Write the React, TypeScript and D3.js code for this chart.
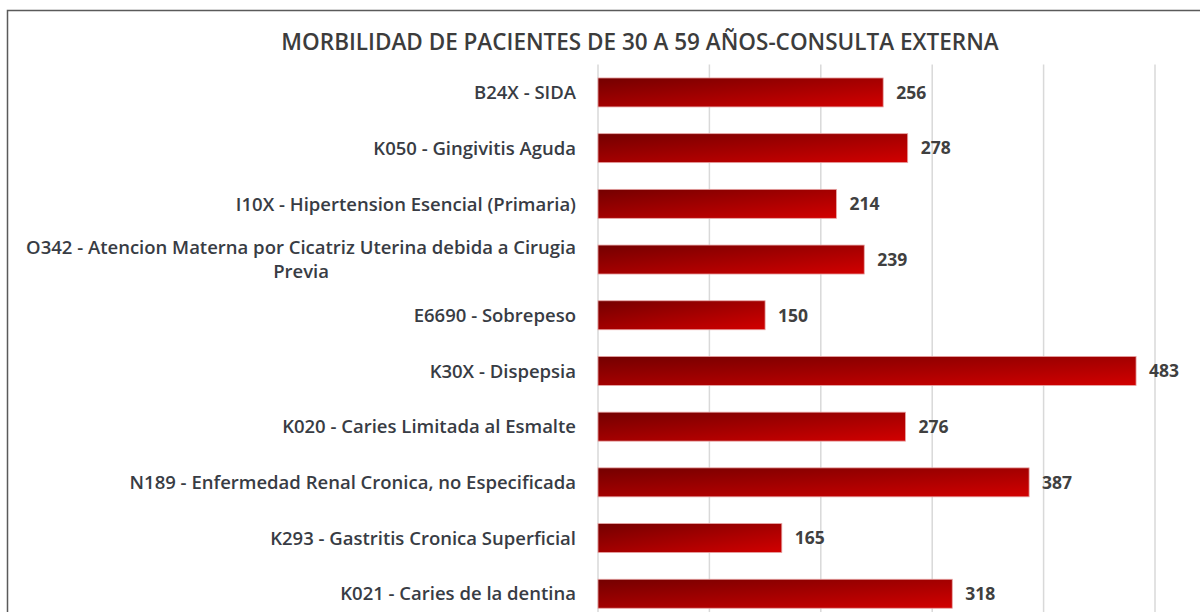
import React, { useEffect, useRef } from 'react';
import * as d3 from 'd3';

const title = 'MORBILIDAD DE PACIENTES DE 30 A 59 AÑOS-CONSULTA EXTERNA';

const categories: string[] = [
  'B24X - SIDA',
  'K050 - Gingivitis Aguda',
  'I10X - Hipertension Esencial (Primaria)',
  'O342 - Atencion Materna por Cicatriz Uterina debida a Cirugia|Previa',
  'E6690 - Sobrepeso',
  'K30X - Dispepsia',
  'K020 - Caries Limitada al Esmalte',
  'N189 - Enfermedad Renal Cronica, no Especificada',
  'K293 - Gastritis Cronica Superficial',
  'K021 - Caries de la dentina',
];

const values: number[] = [256, 278, 214, 239, 150, 483, 276, 387, 165, 318];

const xTicks: number[] = [0, 100, 200, 300, 400, 500];

const W = 1200;
const H = 612;

const App = () => {
  const ref = useRef<SVGSVGElement | null>(null);

  useEffect(() => {
    if (!ref.current) return;
    const svg = d3.select(ref.current);
    svg.selectAll('*').remove();

    const font = "'Open Sans', 'DejaVu Sans', sans-serif";
    const textColor = '#383c44';
    const left = 598;
    const top = 64.6;
    const step = 55.7;

    const x = d3.scaleLinear().domain([0, 500]).range([left, left + 557]);
    const y = d3
      .scaleBand<number>()
      .domain(d3.range(categories.length))
      .range([top, top + step * categories.length])
      .paddingInner(0.48)
      .paddingOuter(0.24);

    const defs = svg.append('defs');
    const grad = defs
      .append('linearGradient')
      .attr('id', 'barGrad')
      .attr('x1', 0)
      .attr('y1', 0)
      .attr('x2', 1)
      .attr('y2', 1);
    grad.append('stop').attr('offset', '0%').attr('stop-color', '#740000');
    grad.append('stop').attr('offset', '100%').attr('stop-color', '#d20000');

    svg.append('rect').attr('width', W).attr('height', H).attr('fill', '#fff');

    // chart frame (right and bottom edges are outside the picture)
    svg
      .append('rect')
      .attr('x', 7.5)
      .attr('y', 10.5)
      .attr('width', W + 20)
      .attr('height', H + 20)
      .attr('fill', 'none')
      .attr('stroke', '#5a5a5a')
      .attr('stroke-width', 1.5);

    svg
      .append('text')
      .attr('x', 640)
      .attr('y', 50)
      .attr('text-anchor', 'middle')
      .attr('font-family', font)
      .attr('font-weight', 600)
      .attr('font-size', 22.5)
      .attr('fill', '#3c3c3c')
      .text(title);

    const yEnd = top + step * categories.length;

    svg
      .append('g')
      .selectAll('line')
      .data(xTicks)
      .join('line')
      .attr('x1', (d) => x(d))
      .attr('x2', (d) => x(d))
      .attr('y1', top)
      .attr('y2', yEnd)
      .attr('stroke', '#d9d9d9')
      .attr('stroke-width', 1.5);

    svg
      .append('g')
      .selectAll('rect')
      .data(values)
      .join('rect')
      .attr('x', x(0))
      .attr('y', (_, i) => y(i) as number)
      .attr('width', (d) => x(d) - x(0))
      .attr('height', y.bandwidth())
      .attr('fill', 'url(#barGrad)')
      .attr('stroke', '#e8a4a4')
      .attr('stroke-width', 0.8);

    svg
      .append('g')
      .selectAll('text')
      .data(values)
      .join('text')
      .attr('x', (d) => x(d) + 13)
      .attr('y', (_, i) => (y(i) as number) + y.bandwidth() / 2)
      .attr('dy', '0.36em')
      .attr('font-family', font)
      .attr('font-weight', 700)
      .attr('font-size', 17.5)
      .attr('fill', '#404040')
      .text((d) => d);

    const labels = svg
      .append('g')
      .selectAll('text')
      .data(categories)
      .join('text')
      .attr('font-family', font)
      .attr('font-weight', 600)
      .attr('font-size', 18.5)
      .attr('fill', textColor)
      .attr('text-anchor', 'end');

    labels.each(function (d, i) {
      const t = d3.select(this);
      const lines = d.split('|');
      const cy = (y(i) as number) + y.bandwidth() / 2;
      const lh = 24;
      const y0 = cy - ((lines.length - 1) * lh) / 2;
      if (lines.length === 1) {
        t.attr('x', 576).attr('y', cy).attr('dy', '0.36em').text(d);
      } else {
        t.append('tspan').attr('x', 576).attr('y', y0).attr('dy', '0.36em').text(lines[0]);
        t.append('tspan').attr('x', 576).attr('y', y0 + lh).attr('dy', '0.36em').text(lines[1]);
      }
    });

    // center the wrapped second line under the first one
    labels.each(function () {
      const spans = d3.select(this).selectAll<SVGTSpanElement, unknown>('tspan').nodes();
      if (spans.length === 2) {
        const w1 = spans[0].getComputedTextLength();
        d3.select(spans[1]).attr('text-anchor', 'middle').attr('x', 576 - w1 / 2);
      }
    });
  }, []);

  return (
    <div style={{ position: 'absolute', left: 0, top: 0, width: W, height: H, overflow: 'hidden' }}>
      <svg ref={ref} width={W} height={H} style={{ display: 'block' }} />
    </div>
  );
};

export default App;
